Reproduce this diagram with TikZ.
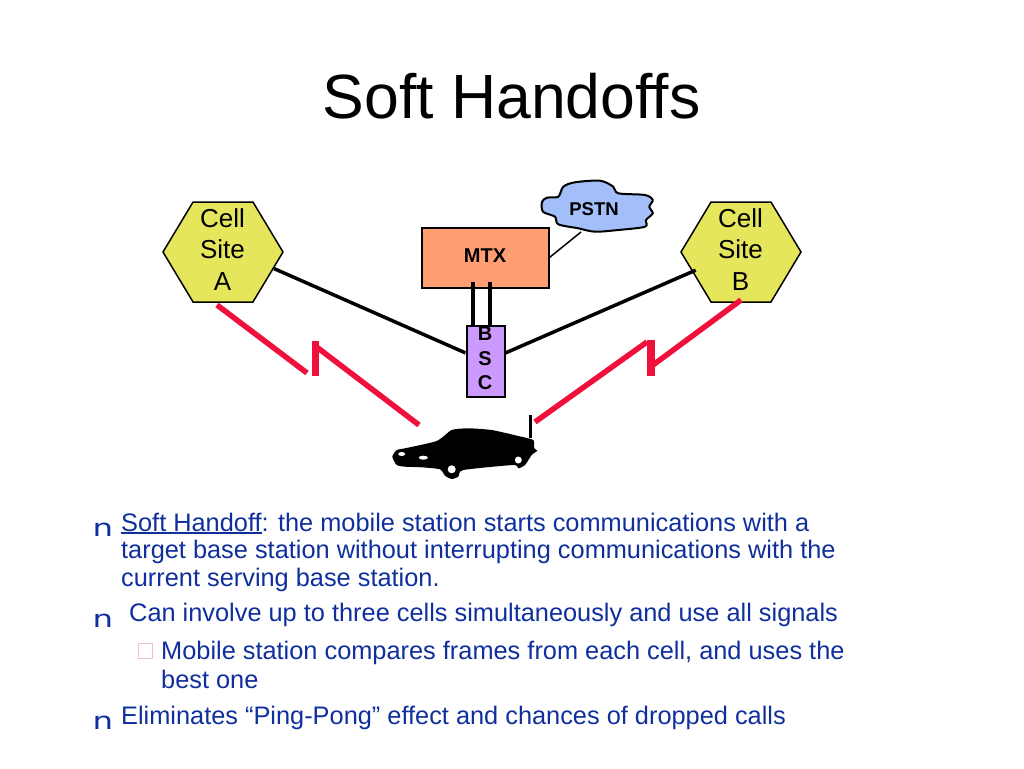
\documentclass[tikz,border=0pt]{standalone}
\usepackage{fontspec}
\usepackage{tikz}
\usepackage{color}
\usetikzlibrary{shapes.symbols}
\setmainfont{Liberation Sans}
\newfontfamily\bulletfont{DejaVu Sans}
\definecolor{bodyblue}{HTML}{0F2F9C}
\definecolor{cellyellow}{HTML}{E6E65C}
\definecolor{mtxorange}{HTML}{FF9E73}
\definecolor{bscpurple}{HTML}{CC99FF}
\definecolor{cloudblue}{HTML}{A3BFFA}
\definecolor{linkred}{HTML}{F0103C}
\definecolor{boxpink}{HTML}{EFC0CC}
\newcommand{\thickuline}[1]{\setbox0=\hbox{#1}\rlap{\rule[-3.2pt]{\wd0}{1.8pt}}\box0}
\tikzset{
  cellsite/.style={signal, signal to=east and west, signal pointer angle=118, draw, line width=1.5pt,
    fill=cellyellow, minimum width=120pt, minimum height=100pt, inner sep=0pt},
  celltext/.style={inner sep=0pt, align=center, font=\fontsize{26}{31.5}\selectfont},
  wire/.style={black, line width=3.5pt},
  radiolink/.style={linkred, line width=5.5pt},
  bodyline/.style={anchor=base west, inner sep=0pt, text=bodyblue, font=\fontsize{25.35}{28}\selectfont},
  bulletmark/.style={anchor=base, inner sep=0pt, text=bodyblue, xscale=1.35, font=\bulletfont\fontsize{24}{24}\selectfont}
}
\begin{document}
\begin{tikzpicture}[x=1pt,y=-1pt]
    \useasboundingbox (0,0) rectangle (1024,768);

    % Title
    \node[anchor=base, inner sep=0pt, font=\fontsize{62.5}{70}\selectfont] (title) at (511.5,118) {Soft Handoffs};

    % Network elements
    \node[cellsite] (cellA) at (223,252) {};
    \node[celltext] (cellAlabel) at (222.5,249.5) {Cell\\Site\\A};
    \node[cellsite] (cellB) at (741,252) {};
    \node[celltext] (cellBlabel) at (740.5,249.5) {Cell\\Site\\B};
    \node[draw, line width=2pt, fill=mtxorange, minimum width=127pt, minimum height=60pt, inner sep=0pt,
      text depth=4pt, font=\bfseries\fontsize{20}{24}\selectfont] (mtx) at (485,257.5) {MTX};
    \node[draw, line width=2pt, fill=bscpurple, minimum width=38pt, minimum height=71pt, inner sep=0pt] (bsc) at (485.5,361) {};
    \node[inner sep=0pt, align=center, font=\bfseries\fontsize{20}{24.5}\selectfont] (bsclabel) at (485,358.5) {B\\S\\C};

    % PSTN cloud
    \draw[line width=2pt, fill=cloudblue] plot[smooth cycle, tension=0.5] coordinates {
      (542,202) (547,197.7) (558.3,196.7) (563.3,186.7) (575,182.3) (600,180.7) (613.3,186.7) (618.3,193.3)
      (645,195) (652.7,200) (649.3,206.7) (652.7,213.3) (646,220) (645,226.7) (618.3,230) (595,231.7)
      (578.3,228.3) (558.3,224.3) (555,216.7) (543,211.7)};
    \node[inner sep=0pt, font=\bfseries\fontsize{18.5}{20}\selectfont] (pstn) at (594,209.5) {PSTN};
    \coordinate (cloudfoot) at (581,232);

    % Wired links
    \draw[wire] (cellA.-18) -- (bsc.158);
    \draw[wire, shorten <=-4pt] (cellB.202) -- (bsc.22);
    \draw[black, line width=1.5pt] (mtx.east) -- (cloudfoot);
    \coordinate (mtxL) at (473,282);
    \coordinate (mtxR) at (490,282);
    \coordinate (bscL) at (473,326);
    \coordinate (bscR) at (490,326);
    \draw[black, line width=4pt] (mtxL) -- (bscL);
    \draw[black, line width=4pt] (mtxR) -- (bscR);

    % Car
    \fill[black] plot[smooth cycle, tension=0.35] coordinates {
      (392.3,456.7) (396.7,450) (405,448.3) (436.7,441) (451.7,430) (468.3,428.3) (491.7,430) (518.3,436)
      (533.3,440) (534.3,448.3) (537.3,450.7) (531.7,455) (525,465) (518.3,468.3) (513.3,465) (463.3,470)
      (458.3,476.7) (451.7,479) (445,475.7) (440,469.3) (421.7,467.3) (405,466.7) (396.7,465)};
    \fill[white] (401.7,454) ellipse (3.5 and 2);
    \fill[white] (423.3,457.7) ellipse (4.5 and 2);
    \fill[white] (451.7,469.3) circle (4);
    \fill[white] (518.3,460) circle (3.5);
    \coordinate (antennaTop) at (530.3,415);
    \coordinate (antennaEnd) at (530.3,438);
    \draw[black, line width=2.5pt] (antennaTop) -- (antennaEnd);

    % Radio links
    \coordinate (redA1) at (217,305);
    \coordinate (redA2) at (307,373);
    \coordinate (redA3) at (314,345);
    \coordinate (redA4) at (419,425);
    \coordinate (barAtop) at (315,341);
    \coordinate (barAend) at (315,376);
    \draw[radiolink] (redA1) -- (redA2);
    \draw[radiolink] (redA3) -- (redA4);
    \draw[linkred, line width=7pt] (barAtop) -- (barAend);
    \coordinate (redB1) at (741,300);
    \coordinate (redB2) at (653,365);
    \coordinate (redB3) at (647,342);
    \coordinate (redB4) at (535,422);
    \coordinate (barBtop) at (651,340);
    \coordinate (barBend) at (651,376);
    \draw[radiolink] (redB1) -- (redB2);
    \draw[radiolink] (redB3) -- (redB4);
    \draw[linkred, line width=8pt] (barBtop) -- (barBend);

    % Bullet text
    \node[bulletmark] (markA) at (103,536) {n};
    \node[bulletmark] (markB) at (103,627) {n};
    \node[bulletmark] (markC) at (103,729) {n};
    \node[draw=boxpink, line width=1pt, minimum width=14pt, minimum height=15pt, inner sep=0pt] (markD) at (145,650.5) {};
    \node[bodyline] (lineA) at (121,531) {\thickuline{Soft Handoff}: the mobile station starts communications with a};
    \node[bodyline] (lineB) at (121,558) {target base station without interrupting communications with the};
    \node[bodyline] (lineC) at (121,586) {current serving base station.};
    \node[bodyline] (lineD) at (129,621) {Can involve up to three cells simultaneously and use all signals};
    \node[bodyline] (lineE) at (161,659) {Mobile station compares frames from each cell, and uses the};
    \node[bodyline] (lineF) at (161,688) {best one};
    \node[bodyline] (lineG) at (121,724) {Eliminates “Ping-Pong” effect and chances of dropped calls};
\end{tikzpicture}
\end{document}
